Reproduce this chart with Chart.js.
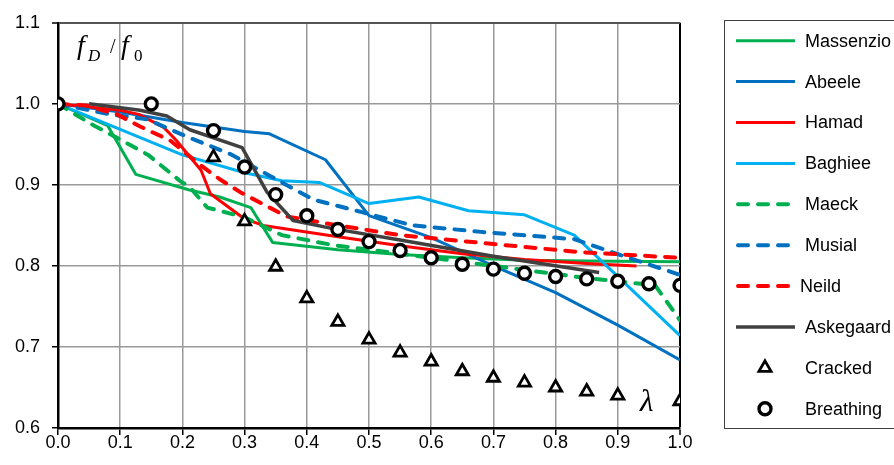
<!DOCTYPE html>
<html lang="en">
<head>
<meta charset="UTF-8">
<title>Frequency ratio versus crack depth</title>
<script src="https://cdn.jsdelivr.net/npm/chart.js"></script>
<style>
  html, body { margin: 0; padding: 0; background: #fff; }
  #wrap { width: 894px; height: 465px; }
</style>
</head>
<body>
<div id="wrap"><canvas id="freqChart" width="894" height="465"></canvas></div>
<script>
  // crack depth ratio (lambda) on x, frequency ratio fD/f0 on y
  const xTicks = [0, 0.1, 0.2, 0.3, 0.4, 0.5, 0.6, 0.7, 0.8, 0.9, 1.0];
  const yTicks = [0.6, 0.7, 0.8, 0.9, 1.0, 1.1];

  const massenzioX = [0, 0.08, 0.125, 0.21, 0.26, 0.31, 0.345, 0.45, 0.55, 0.65, 0.75, 0.85, 1.0];
  const massenzioY = [1.0, 0.973, 0.913, 0.894, 0.885, 0.872, 0.829, 0.82, 0.814, 0.81, 0.807, 0.806, 0.805];

  const abeeleX = [0, 0.1, 0.2, 0.3, 0.34, 0.43, 0.5, 0.6, 0.7, 0.8, 0.9, 1.0];
  const abeeleY = [1.0, 0.99, 0.977, 0.966, 0.963, 0.931, 0.862, 0.835, 0.80, 0.767, 0.727, 0.684];

  const hamadX = [0, 0.1, 0.13, 0.17, 0.19, 0.23, 0.245, 0.3, 0.33, 0.45, 0.55, 0.65, 0.75, 0.85, 0.93];
  const hamadY = [1.0, 0.992, 0.987, 0.971, 0.955, 0.918, 0.889, 0.858, 0.85, 0.836, 0.825, 0.815, 0.808, 0.803, 0.80];

  const baghieeX = [0, 0.2, 0.3, 0.36, 0.42, 0.5, 0.58, 0.66, 0.75, 0.83, 1.0];
  const baghieeY = [1.0, 0.937, 0.915, 0.905, 0.903, 0.877, 0.885, 0.868, 0.863, 0.838, 0.714];

  const maeckX = [0, 0.03, 0.056, 0.095, 0.145, 0.196, 0.212, 0.24, 0.3, 0.36, 0.44, 0.55, 0.65, 0.75, 0.84, 0.96, 1.0];
  const maeckY = [1.0, 0.986, 0.974, 0.958, 0.937, 0.905, 0.897, 0.872, 0.86, 0.838, 0.826, 0.815, 0.805, 0.795, 0.786, 0.776, 0.733];

  const musialX = [0, 0.084, 0.143, 0.212, 0.277, 0.341, 0.41, 0.49, 0.57, 0.68, 0.83, 0.89, 1.0];
  const musialY = [1.0, 0.987, 0.981, 0.958, 0.938, 0.911, 0.882, 0.866, 0.85, 0.842, 0.833, 0.817, 0.789];

  const neildX = [0, 0.045, 0.095, 0.132, 0.18, 0.228, 0.26, 0.293, 0.33, 0.368, 0.45, 0.55, 0.7, 0.84, 1.0];
  const neildY = [1.0, 0.998, 0.987, 0.972, 0.955, 0.925, 0.907, 0.891, 0.876, 0.861, 0.85, 0.838, 0.827, 0.817, 0.81];

  const askegaardX = [0.05, 0.132, 0.175, 0.212, 0.296, 0.336, 0.378, 0.442, 0.55, 0.7, 0.87];
  const askegaardY = [1.0, 0.992, 0.985, 0.968, 0.946, 0.891, 0.856, 0.846, 0.832, 0.812, 0.792];

  const crackedX = [0.25, 0.3, 0.35, 0.4, 0.45, 0.5, 0.55, 0.6, 0.65, 0.7, 0.75, 0.8, 0.85, 0.9, 1.0];
  const crackedY = [0.934, 0.855, 0.799, 0.76, 0.731, 0.709, 0.693, 0.682, 0.67, 0.662, 0.656, 0.65, 0.645, 0.64, 0.633];

  const breathingX = [0, 0.15, 0.25, 0.3, 0.35, 0.4, 0.45, 0.5, 0.55, 0.6, 0.65, 0.7, 0.75, 0.8, 0.85, 0.9, 0.95, 1.0];
  const breathingY = [1.0, 1.0, 0.967, 0.922, 0.888, 0.862, 0.845, 0.83, 0.819, 0.81, 0.802, 0.796, 0.791, 0.787, 0.784, 0.781, 0.778, 0.776];

  const pts = (xs, ys) => xs.map((x, i) => ({ x: x, y: ys[i] }));

  const GREEN = '#00B050', BLUE = '#0070C0', RED = '#FF0000', SKY = '#00B0F0', GREY = '#404040';
  const DASH = [10, 10];

  function lineSet(label, xs, ys, color, dashed, order, width) {
    return {
      label: label,
      data: pts(xs, ys),
      showLine: true,
      borderColor: color,
      backgroundColor: color,
      borderWidth: width || (dashed ? 4 : 3),
      borderDash: dashed ? DASH : [],
      borderCapStyle: dashed ? 'round' : 'butt',
      borderJoinStyle: 'round',
      pointRadius: 0,
      tension: 0,
      order: order
    };
  }

  Chart.defaults.font.family = '"Liberation Sans", Arial, sans-serif';
  Chart.defaults.color = '#000';

  const datasets = [
    lineSet('Massenzio', massenzioX, massenzioY, GREEN, false, 9),
    lineSet('Abeele', abeeleX, abeeleY, BLUE, false, 8),
    lineSet('Hamad', hamadX, hamadY, RED, false, 7),
    lineSet('Baghiee', baghieeX, baghieeY, SKY, false, 6),
    lineSet('Maeck', maeckX, maeckY, GREEN, true, 5),
    lineSet('Musial', musialX, musialY, BLUE, true, 4),
    lineSet('Neild', neildX, neildY, RED, true, 3),
    lineSet('Askegaard', askegaardX, askegaardY, GREY, false, 2, 3.5),
    {
      label: 'Cracked',
      data: pts(crackedX, crackedY),
      showLine: false,
      pointStyle: 'triangle',
      pointRadius: 7,
      pointBorderWidth: 2.8,
      pointBorderColor: '#000',
      pointBackgroundColor: '#fff',
      order: 1
    },
    {
      label: 'Breathing',
      data: pts(breathingX, breathingY),
      showLine: false,
      pointStyle: 'circle',
      pointRadius: 6,
      pointBorderWidth: 3.4,
      pointBorderColor: '#000',
      pointBackgroundColor: '#fff',
      order: 0
    }
  ];

  // boxed legend on the right plus the axis symbols
  const extras = {
    id: 'extras',
    afterDraw(chart) {
      const ctx = chart.ctx;
      ctx.save();
      ctx.strokeStyle = '#404040';
      ctx.lineWidth = 1;
      ctx.setLineDash([]);
      ctx.strokeRect(724.5, 20.5, 200, 408);

      ctx.font = '18px "Liberation Sans", Arial, sans-serif';
      ctx.textBaseline = 'middle';
      chart.data.datasets.forEach((ds, i) => {
        const y = 40.7 + i * 40.9;
        if (ds.showLine) {
          ctx.beginPath();
          ctx.strokeStyle = ds.borderColor;
          ctx.lineWidth = ds.borderWidth;
          ctx.lineCap = ds.borderCapStyle;
          ctx.setLineDash(ds.borderDash);
          if (ds.borderDash.length) { ctx.moveTo(738, y); ctx.lineTo(788, y); }
          else { ctx.moveTo(736, y); ctx.lineTo(795, y); }
          ctx.stroke();
          ctx.setLineDash([]);
        } else {
          ctx.fillStyle = '#fff';
          ctx.strokeStyle = '#000';
          ctx.lineWidth = ds.pointBorderWidth;
          Chart.helpers.drawPoint(ctx, {
            pointStyle: ds.pointStyle, radius: ds.pointRadius,
            borderWidth: ds.pointBorderWidth, rotation: 0
          }, 765, y);
        }
        ctx.fillStyle = '#000';
        ctx.fillText(ds.label, ds.label === 'Neild' ? 800 : 805, y + 1);
      });

      // f_D / f_0
      ctx.textBaseline = 'alphabetic';
      ctx.fillStyle = '#000';
      const serif = '"Liberation Serif", "Times New Roman", serif';
      ctx.font = 'italic 28px ' + serif;
      ctx.fillText('f', 77, 54);
      ctx.font = 'italic 17px ' + serif;
      ctx.fillText('D', 88, 61);
      ctx.font = '20px ' + serif;
      ctx.fillText('/', 110, 53);
      ctx.font = 'italic 28px ' + serif;
      ctx.fillText('f', 121, 54);
      ctx.font = '17px ' + serif;
      ctx.fillText('0', 134, 61);

      // lambda
      ctx.font = 'italic 31px ' + serif;
      ctx.fillText('\u03BB', 640, 411);
      ctx.restore();
    }
  };

  new Chart(document.getElementById('freqChart'), {
    type: 'scatter',
    data: { datasets: datasets },
    options: {
      responsive: false,
      animation: false,
      layout: { padding: { top: 19, right: 214, left: 0, bottom: 0 } },
      plugins: { legend: { display: false }, tooltip: { enabled: false } },
      scales: {
        x: {
          type: 'linear',
          min: 0, max: 1,
          afterBuildTicks: s => { s.ticks = xTicks.map(v => ({ value: v })); },
          afterFit: s => { s.height = 37; },
          ticks: {
            font: { size: 18 },
            padding: -3,
            maxRotation: 0,
            autoSkip: false,
            callback: v => v.toFixed(1)
          },
          grid: {
            color: c => (c.tick && c.tick.value === 1) ? '#000' : '#999',
            lineWidth: c => (c.tick && c.tick.value === 1) ? 2 : 1.5,
            tickColor: '#000',
            tickLength: 7,
            tickWidth: 1.5
          },
          border: { display: true, color: '#000', width: 2.5 }
        },
        y: {
          min: 0.6, max: 1.1,
          afterBuildTicks: s => { s.ticks = yTicks.map(v => ({ value: v })); },
          afterFit: s => { s.width = 58; },
          ticks: {
            font: { size: 18 },
            padding: 12,
            autoSkip: false,
            callback: v => v.toFixed(1)
          },
          grid: {
            color: c => (c.tick && Math.abs(c.tick.value - 1.1) < 1e-6) ? '#555' : '#999',
            lineWidth: c => (c.tick && Math.abs(c.tick.value - 1.1) < 1e-6) ? 2 : 1.5,
            tickColor: '#000',
            tickLength: 6,
            tickWidth: 1.5
          },
          border: { display: true, color: '#000', width: 2.5 }
        }
      }
    },
    plugins: [extras]
  });
</script>
</body>
</html>
